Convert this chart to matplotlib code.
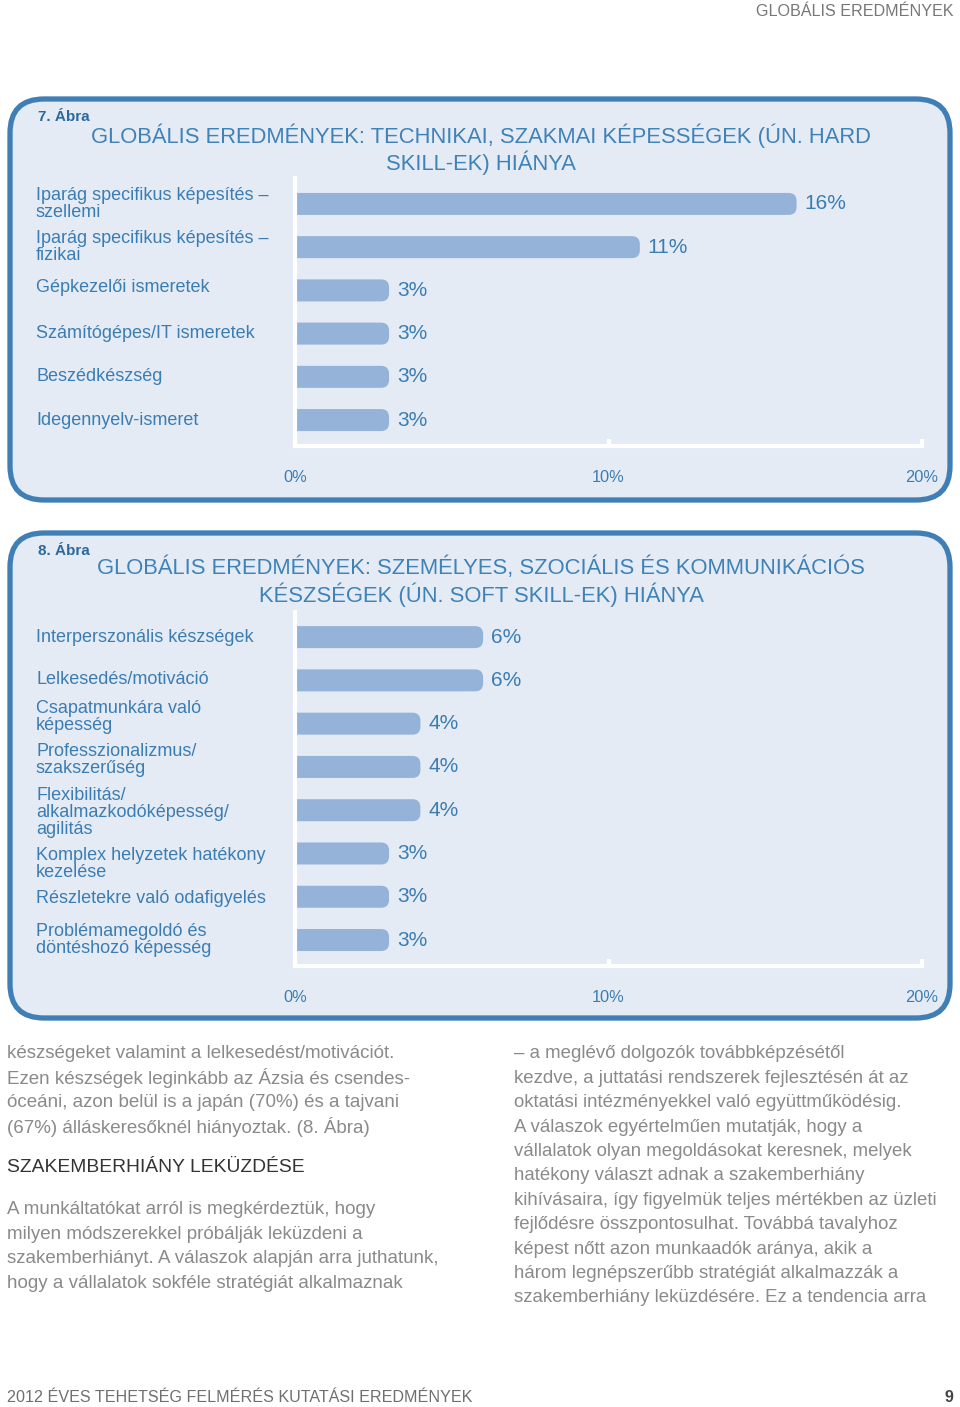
import matplotlib.pyplot as plt
from matplotlib.patches import FancyBboxPatch

plt.rcParams['font.family'] = ['Liberation Sans', 'DejaVu Sans']

# chart 7 data
hard_labels = ['Iparág specifikus képesítés –\nszellemi', 'Iparág specifikus képesítés –\nfizikai',
               'Gépkezelői ismeretek', 'Számítógépes/IT ismeretek', 'Beszédkészség', 'Idegennyelv-ismeret']
hard_values = [16, 11, 3, 3, 3, 3]

# chart 8 data
soft_labels = ['Interperszonális készségek', 'Lelkesedés/motiváció', 'Csapatmunkára való\nképesség',
               'Professzionalizmus/\nszakszerűség', 'Flexibilitás/\nalkalmazkodóképesség/\nagilitás',
               'Komplex helyzetek hatékony\nkezelése', 'Részletekre való odafigyelés',
               'Problémamegoldó és\ndöntéshozó képesség']
soft_values = [6, 6, 4, 4, 4, 3, 3, 3]

x_ticks = [0, 10, 20]
x_ticklabels = ['0%', '10%', '20%']

left_col = ['készségeket valamint a lelkesedést/motivációt.',
            'Ezen készségek leginkább az Ázsia és csendes-',
            'óceáni, azon belül is a japán (70%) és a tajvani',
            '(67%) álláskeresőknél hiányoztak. (8. Ábra)']
heading = 'SZAKEMBERHIÁNY LEKÜZDÉSE'
left_col2 = ['A munkáltatókat arról is megkérdeztük, hogy',
             'milyen módszerekkel próbálják leküzdeni a',
             'szakemberhiányt. A válaszok alapján arra juthatunk,',
             'hogy a vállalatok sokféle stratégiát alkalmaznak']
right_col = ['– a meglévő dolgozók továbbképzésétől',
             'kezdve, a juttatási rendszerek fejlesztésén át az',
             'oktatási intézményekkel való együttműködésig.',
             'A válaszok egyértelműen mutatják, hogy a',
             'vállalatok olyan megoldásokat keresnek, melyek',
             'hatékony választ adnak a szakemberhiány',
             'kihívásaira, így figyelmük teljes mértékben az üzleti',
             'fejlődésre összpontosulhat. Továbbá tavalyhoz',
             'képest nőtt azon munkaadók aránya, akik a',
             'három legnépszerűbb stratégiát alkalmazzák a',
             'szakemberhiány leküzdésére. Ez a tendencia arra']

BAR = '#95b3d8'
BLUE = '#3b7db3'
BORDER = '#3f7fb5'
FILL = '#e4ebf5'
GRAY = '#8a8a8a'

W, H = 960, 1407
fig = plt.figure(figsize=(W / 100, H / 100), dpi=100)
page = fig.add_axes([0, 0, 1, 1])
page.set_xlim(0, W)
page.set_ylim(H, 0)
page.axis('off')


def px_axes(x0, y0, x1, y1):
    return fig.add_axes([x0 / W, 1 - y1 / H, (x1 - x0) / W, (y1 - y0) / H])


def panel(y0, y1, num, title1, title2, ty):
    page.add_patch(FancyBboxPatch((10, y0), 940, y1 - y0,
                                  boxstyle='round,pad=0,rounding_size=34',
                                  facecolor=FILL, edgecolor=BORDER, linewidth=3.8))
    page.text(38, y0 + 18, num, fontsize=11, fontweight='bold', color='#2d6a9c', va='center')
    page.text(481, ty, title1, fontsize=15.8, color='#3f82b8', ha='center', va='center')
    page.text(481, ty + 27, title2, fontsize=15.8, color='#3f82b8', ha='center', va='center')


def bar_chart(box, ylim, labels, values, dy):
    ax = px_axes(*box)
    ax.set_facecolor('none')
    ax.set_xlim(0, 20)
    ax.set_ylim(*ylim)
    xpx = (box[2] - box[0]) / 20
    ypx = (box[3] - box[1]) / abs(ylim[0] - ylim[1])
    r = 8 / xpx
    for i, v in enumerate(values):
        h = 22 / ypx
        ax.add_patch(FancyBboxPatch((-1, i - h / 2), v + 1, h,
                                    boxstyle=f'round,pad=0,rounding_size={r}',
                                    mutation_aspect=xpx / ypx,
                                    facecolor=BAR, edgecolor='none', zorder=2))
        ax.annotate(f'{v}%', xy=(v, i), xytext=(8, 0), textcoords='offset pixels',
                    ha='left', va='center', fontsize=15, color=BLUE)
    for i, lab in enumerate(labels):
        ax.annotate(lab, xy=((36 - box[0]) / (box[2] - box[0]), i), xycoords=ax.get_yaxis_transform(),
                    xytext=(0, dy[i]), textcoords='offset pixels', annotation_clip=False,
                    ha='left', va='center', fontsize=13, color=BLUE, linespacing=1.0)
    for s in ['top', 'right']:
        ax.spines[s].set_visible(False)
    for s in ['left', 'bottom']:
        ax.spines[s].set_color('white')
        ax.spines[s].set_linewidth(3)
        ax.spines[s].set_zorder(3)
    ax.set_yticks([])
    ax.set_xticks(x_ticks, x_ticklabels)
    ax.tick_params(axis='x', direction='in', length=5, width=3, color='white',
                   labelcolor=BLUE, labelsize=11.8, pad=17)
    return ax


panel(99, 500, '7. Ábra', 'GLOBÁLIS EREDMÉNYEK: TECHNIKAI, SZAKMAI KÉPESSÉGEK (ÚN. HARD',
      'SKILL-EK) HIÁNYA', 136)
bar_chart((295, 178, 922, 446), (5.6, -0.6), hard_labels, hard_values, [0, 0, 3, 0, 0, 0])

panel(533, 1018, '8. Ábra', 'GLOBÁLIS EREDMÉNYEK: SZEMÉLYES, SZOCIÁLIS ÉS KOMMUNIKÁCIÓS',
      'KÉSZSÉGEK (ÚN. SOFT SKILL-EK) HIÁNYA', 568)
bar_chart((295, 612, 922, 966), (7.6, -0.58), soft_labels, soft_values, [0, 1, 7, 7, -2, -11, -2, 0])

# page text
page.text(953, 11, 'GLOBÁLIS EREDMÉNYEK', fontsize=11.6, color='#777777', ha='right', va='center')
for k, line in enumerate(left_col):
    page.text(7, 1054 + 24.4 * k, line, fontsize=13.5, color=GRAY, va='center')
page.text(7, 1168, heading, fontsize=13.9, color='#333333', va='center')
for k, line in enumerate(left_col2):
    page.text(7, 1210 + 24.4 * k, line, fontsize=13.5, color=GRAY, va='center')
for k, line in enumerate(right_col):
    page.text(514, 1054 + 24.4 * k, line, fontsize=13.4, color=GRAY, va='center')
page.text(7, 1397, '2012 ÉVES TEHETSÉG FELMÉRÉS KUTATÁSI EREDMÉNYEK', fontsize=11.6,
          color='#6f6f6f', va='center')
page.text(953, 1397, '9', fontsize=11.5, fontweight='bold', color='#444444', ha='right', va='center')

fig.savefig('out.png', dpi=100)
